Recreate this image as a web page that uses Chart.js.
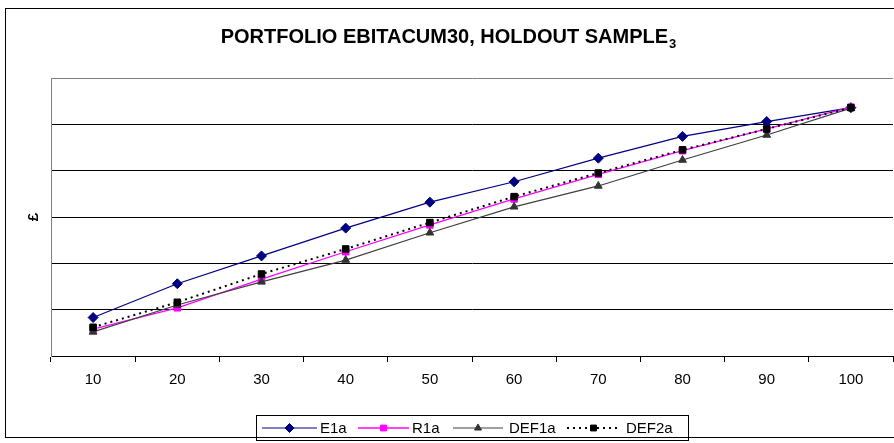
<!DOCTYPE html>
<html>
<head>
<meta charset="utf-8">
<script src="https://cdn.jsdelivr.net/npm/chart.js@4.4.0/dist/chart.umd.min.js"></script>
<style>
  html, body { margin: 0; padding: 0; background: #ffffff; }
  canvas { display: block; }
</style>
</head>
<body>
<canvas id="chart" width="894" height="443"></canvas>
<script>
// Portfolio deciles on the x axis
const categories = ['10', '20', '30', '40', '50', '60', '70', '80', '90', '100'];

// Cumulative portfolio values per series
const e1a   = [0.83, 1.56, 2.16, 2.76, 3.32, 3.76, 4.27, 4.74, 5.06, 5.36];
const r1a   = [0.58, 1.04, 1.66, 2.25, 2.83, 3.39, 3.92, 4.43, 4.90, 5.37];
const def1a = [0.52, 1.10, 1.60, 2.07, 2.66, 3.22, 3.67, 4.23, 4.77, 5.35];
const def2a = [0.62, 1.16, 1.77, 2.31, 2.88, 3.44, 3.95, 4.45, 4.90, 5.36];

const seriesNames = ['E1a', 'R1a', 'DEF1a', 'DEF2a'];
const titleMain = 'PORTFOLIO EBITACUM30, HOLDOUT SAMPLE';
const titleSub = '3';
const yAxisTitle = '£';

const FONT = '"Liberation Sans", Arial, sans-serif';

const datasets = [
  {
    label: seriesNames[0], data: e1a,
    borderColor: '#000080', backgroundColor: '#000080',
    borderWidth: 1.2, pointStyle: 'rectRot', pointRadius: 5,
    pointBorderColor: '#000080', pointBackgroundColor: '#000080', pointBorderWidth: 1,
    order: 4
  },
  {
    label: seriesNames[1], data: r1a,
    borderColor: '#ff00ff', backgroundColor: '#ff00ff',
    borderWidth: 1.3, pointStyle: 'rect', pointRadius: 4.6,
    pointBorderColor: '#ff00ff', pointBackgroundColor: '#ff00ff', pointBorderWidth: 1,
    order: 3
  },
  {
    label: seriesNames[2], data: def1a,
    borderColor: '#404040', backgroundColor: '#333333',
    borderWidth: 1.2, pointStyle: 'triangle', pointRadius: 4.5,
    pointBorderColor: '#333333', pointBackgroundColor: '#333333', pointBorderWidth: 1,
    order: 2
  },
  {
    label: seriesNames[3], data: def2a,
    borderColor: '#000000', backgroundColor: '#000000',
    borderWidth: 2, borderDash: [2, 4], pointStyle: 'rect', pointRadius: 4.6,
    pointBorderColor: '#000000', pointBackgroundColor: '#000000', pointBorderWidth: 1,
    order: 1
  }
];

// Legend entry layout: line start, line length, text start
const legendLineX = [262, 358, 453, 567];
const legendLineLen = [55, 51, 50, 53];
const legendTextX = [320, 412, 509, 626];

// Draws the outer frame, the title with its subscript, the y title and the boxed legend
const decorations = {
  id: 'decorations',
  afterDraw(chart) {
    const ctx = chart.ctx;
    ctx.save();

    // outer frame
    ctx.strokeStyle = '#000000';
    ctx.lineWidth = 1;
    ctx.strokeRect(5.5, 8.5, 900, 429);

    // title
    ctx.fillStyle = '#000000';
    ctx.textBaseline = 'alphabetic';
    ctx.font = 'bold 20px ' + FONT;
    const wMain = ctx.measureText(titleMain).width;
    ctx.font = 'bold 13px ' + FONT;
    const wSub = ctx.measureText(titleSub).width;
    const tx = 448 - (wMain + wSub) / 2;
    ctx.font = 'bold 20px ' + FONT;
    ctx.textAlign = 'left';
    ctx.fillText(titleMain, tx, 43);
    ctx.font = 'bold 13px ' + FONT;
    ctx.fillText(titleSub, tx + wMain + 1, 48);

    // y axis title
    ctx.save();
    ctx.translate(34, 217);
    ctx.rotate(-Math.PI / 2);
    ctx.font = 'bold 15px ' + FONT;
    ctx.textAlign = 'center';
    ctx.textBaseline = 'middle';
    ctx.fillText(yAxisTitle, 0, 0);
    ctx.restore();

    // legend
    const boxX = 256.5, boxY = 415.5, boxW = 432, boxH = 25;
    const cy = boxY + boxH / 2;
    ctx.font = '15px ' + FONT;
    ctx.textBaseline = 'middle';
    ctx.textAlign = 'left';
    chart.data.datasets.forEach((ds, i) => {
      const x = legendLineX[i];
      const len = legendLineLen[i];
      ctx.save();
      ctx.strokeStyle = ds.borderColor;
      ctx.lineWidth = ds.borderWidth;
      ctx.setLineDash(ds.borderDash || []);
      ctx.beginPath();
      ctx.moveTo(x, cy);
      ctx.lineTo(x + len, cy);
      ctx.stroke();
      ctx.restore();
      ctx.save();
      ctx.fillStyle = ds.pointBackgroundColor;
      ctx.strokeStyle = ds.pointBorderColor;
      ctx.lineWidth = 1;
      Chart.helpers.drawPoint(ctx, { pointStyle: ds.pointStyle, radius: ds.pointRadius * 0.9, rotation: 0, borderWidth: 1 }, x + len / 2, cy);
      ctx.restore();
      ctx.fillStyle = '#000000';
      ctx.fillText(ds.label, legendTextX[i], cy + 1);
    });
    ctx.strokeStyle = '#000000';
    ctx.lineWidth = 1;
    ctx.strokeRect(boxX, boxY, boxW, boxH);

    ctx.restore();
  }
};

new Chart(document.getElementById('chart'), {
  type: 'line',
  data: { labels: categories, datasets },
  options: {
    responsive: false,
    devicePixelRatio: 1,
    animation: false,
    layout: { autoPadding: false, padding: { left: 6, right: 1, top: 78, bottom: 0 } },
    plugins: {
      legend: { display: false },
      title: { display: false },
      tooltip: { enabled: false }
    },
    elements: { line: { tension: 0 } },
    scales: {
      x: {
        type: 'category',
        offset: true,
        grid: {
          offset: true,
          drawOnChartArea: false,
          drawTicks: true,
          tickLength: 6,
          color: '#000000'
        },
        border: { display: true, color: '#000000', width: 1 },
        ticks: {
          color: '#000000',
          font: { family: FONT, size: 15 },
          padding: 9,
          maxRotation: 0
        },
        afterFit(scale) {
          scale.height = 87;
          scale.paddingLeft = 0;
          scale.paddingRight = 0;
        }
      },
      y: {
        min: 0,
        max: 6,
        ticks: { display: false, stepSize: 1 },
        grid: {
          drawTicks: false,
          color: (c) => (c.tick && c.tick.value === 6 ? '#808080' : '#000000'),
          lineWidth: 1
        },
        border: { display: true, color: '#808080', width: 1 },
        afterFit(scale) { scale.width = 45; }
      }
    }
  },
  plugins: [decorations]
});
</script>
</body>
</html>
